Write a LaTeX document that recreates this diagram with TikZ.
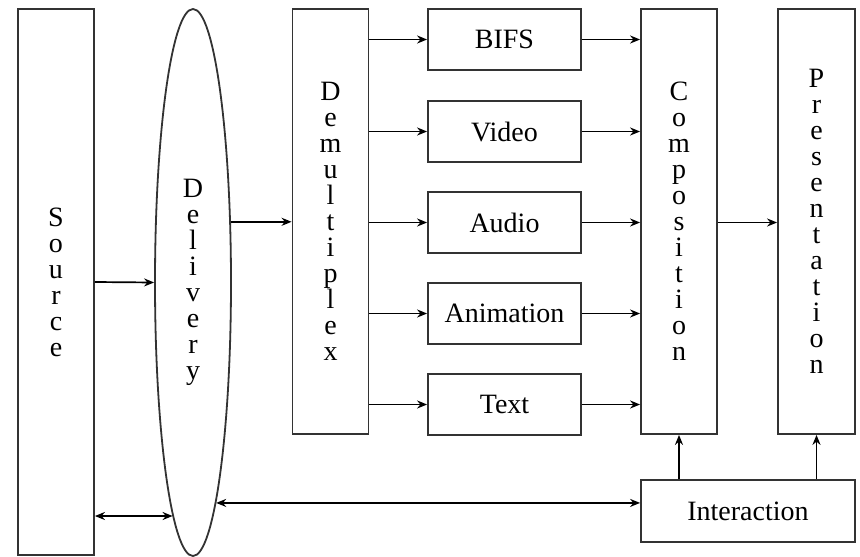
\documentclass[tikz,border=0pt]{standalone}
\usepackage{fontspec}
\setmainfont{Liberation Serif}
\usetikzlibrary{shapes.geometric,arrows.meta}
\begin{document}
\begin{tikzpicture}[x=1pt,y=-1pt,
 box/.style={draw=black!80,line width=1.8pt,inner sep=0pt,rectangle,align=center,font=\fontsize{28}{26}\selectfont},
 tall/.style={box,minimum width=76pt,minimum height=425pt},
 small/.style={box,minimum width=153pt,minimum height=61pt},
 tip/.style={},
 arr/.style={-{Stealth[length=10pt,width=8pt]},line width=1.7pt},
 darr/.style={{Stealth[length=10pt,width=8pt]}-{Stealth[length=10pt,width=8pt]},line width=1.7pt}]
\useasboundingbox (0,0) rectangle (860,557);
\node[box,minimum width=76pt,minimum height=546pt] (src) at (56,282) {S\\o\\u\\r\\c\\e};
\node[box,ellipse,minimum width=76pt,minimum height=547pt] (del) at (193,282.5) {D\\e\\l\\i\\v\\e\\r\\y};
\node[tall] (dmx) at (330.5,221.5) {D\\e\\m\\u\\l\\t\\i\\p\\l\\e\\x};
\node[small] (bifs) at (504.5,39.5) {BIFS};
\node[small] (vid) at (504.5,131.5) {Video};
\node[small] (aud) at (504.5,222.5) {Audio};
\node[small] (ani) at (504.5,313.5) {Animation};
\node[small] (txt) at (504.5,404.5) {Text};
\node[tall] (cmp) at (679,221.5) {C\\o\\m\\p\\o\\s\\i\\t\\i\\o\\n};
\node[tall,minimum width=77pt] (prs) at (816.5,221.5) {P\\r\\e\\s\\e\\n\\t\\a\\t\\i\\o\\n};
\node[box,minimum width=214pt,minimum height=62pt] (int) at (748,511) {Interaction};
\draw[arr] (src.east) -- (del.west);
\draw[arr] (del.58.6) -- (dmx.west |- del.58.6);
\foreach \b in {bifs,vid,aud,ani,txt}{
  \draw[arr] (dmx.east |- \b.west) -- (\b.west);
  \draw[arr] (\b.east) -- (cmp.west |- \b.east);
}
\draw[arr] (cmp.east |- aud.east) -- (prs.west |- aud.east);
\draw[arr] (int.north -| cmp.south) -- (cmp.south);
\draw[arr] (int.north -| prs.south) -- (prs.south);
\draw[darr] (src.east |- del.-95.15) -- (del.-95.15);
\draw[darr] (del.-84.85) -- (int.west |- del.-84.85);
\end{tikzpicture}
\end{document}
